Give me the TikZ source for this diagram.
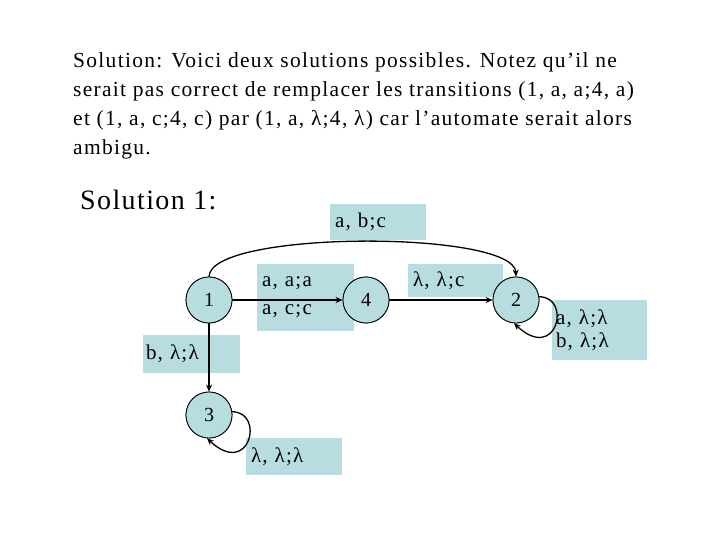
\documentclass[tikz,border=0pt]{standalone}
\usepackage{fontspec}
\setmainfont{Liberation Serif}[LetterSpace=5]
\usetikzlibrary{arrows.meta}
\definecolor{lblue}{RGB}{184,221,225}
\tikzset{
  lbox/.style={fill=lblue, inner xsep=5pt, inner ysep=0pt, align=left, font=\fontsize{21}{28}\selectfont\addfontfeatures{LetterSpace=6}},
  state/.style={circle, draw=black, line width=0.8pt, fill=lblue, minimum size=46pt, inner sep=0pt, font=\fontsize{20}{24}\selectfont},
  edge/.style={line width=1.3pt, -{Stealth[length=7pt,width=6pt]}},
  tline/.style={anchor=base west, inner sep=0pt, font=\fontsize{21.5}{29}\selectfont\addfontfeatures{LetterSpace=6}},
}
\begin{document}
\begin{tikzpicture}[x=1pt,y=-1pt]
\useasboundingbox (0,0) rectangle (720,540);
\node[tline] (t1) at (73,68) {Solution: Voici deux solutions possibles. Notez qu’il ne};
\node[tline] (t2) at (73,97) {serait pas correct de remplacer les transitions (1, a, a;4, a)};
\node[tline] (t3) at (73,126) {et (1, a, c;4, c) par (1, a, λ;4, λ) car l’automate serait alors};
\node[tline] (t4) at (73,155) {ambigu.};
\node[anchor=base west, inner sep=0pt, font=\fontsize{28}{32}\selectfont] (sol) at (80,210) {Solution 1:};
% label boxes
\node[lbox, minimum width=96pt, minimum height=36pt, text width=86pt] (lab) at (378,222) {a, b;c};
\node[lbox, minimum width=97pt, minimum height=67pt, text width=87pt] (laa) at (305.5,297.5) {a, a;a\\a, c;c};
\node[lbox, minimum width=95pt, minimum height=33pt, text width=85pt, inner xsep=3pt] (lll) at (455.5,280.5) {λ, λ;c};
\node[lbox, minimum width=97pt, minimum height=38pt, text width=91pt, inner xsep=3pt] (lb) at (191.5,354) {b, λ;λ};
\node[lbox, minimum width=96pt, minimum height=37pt, text width=86pt] (l3) at (294,456.5) {λ, λ;λ};
\node[lbox, minimum width=95pt, minimum height=60pt, text width=87pt, inner xsep=4pt, font=\fontsize{21}{23}\selectfont\addfontfeatures{LetterSpace=6}] (l2) at (599.5,330) {a, λ;λ\\b, λ;λ};
% states (positions)
\coordinate (p1) at (209,300);
\coordinate (p4) at (366,300);
\coordinate (p2) at (516,300);
\coordinate (p3) at (209,415);
\node[state] (n1) at (p1) {1};
\node[state] (n4) at (p4) {4};
\node[state] (n2) at (p2) {2};
\node[state] (n3) at (p3) {3};
% edges
\draw[edge] (n1.north) .. controls (210,230) and (514,230) .. (n2.north);
\draw[edge] (n1) -- (n4);
\draw[edge] (n4) -- (n2);
\draw[edge] (n1) -- (n3);
\draw[edge] (n3.8) .. controls +(33,0) and +(43,40) .. (n3.-95);
\draw[edge] (n2.8) .. controls +(33,0) and +(43,40) .. (n2.-95);
% redraw states on top
\node[state] at (p1) {1};
\node[state] at (p4) {4};
\node[state] at (p2) {2};
\node[state] at (p3) {3};
\end{tikzpicture}
\end{document}
